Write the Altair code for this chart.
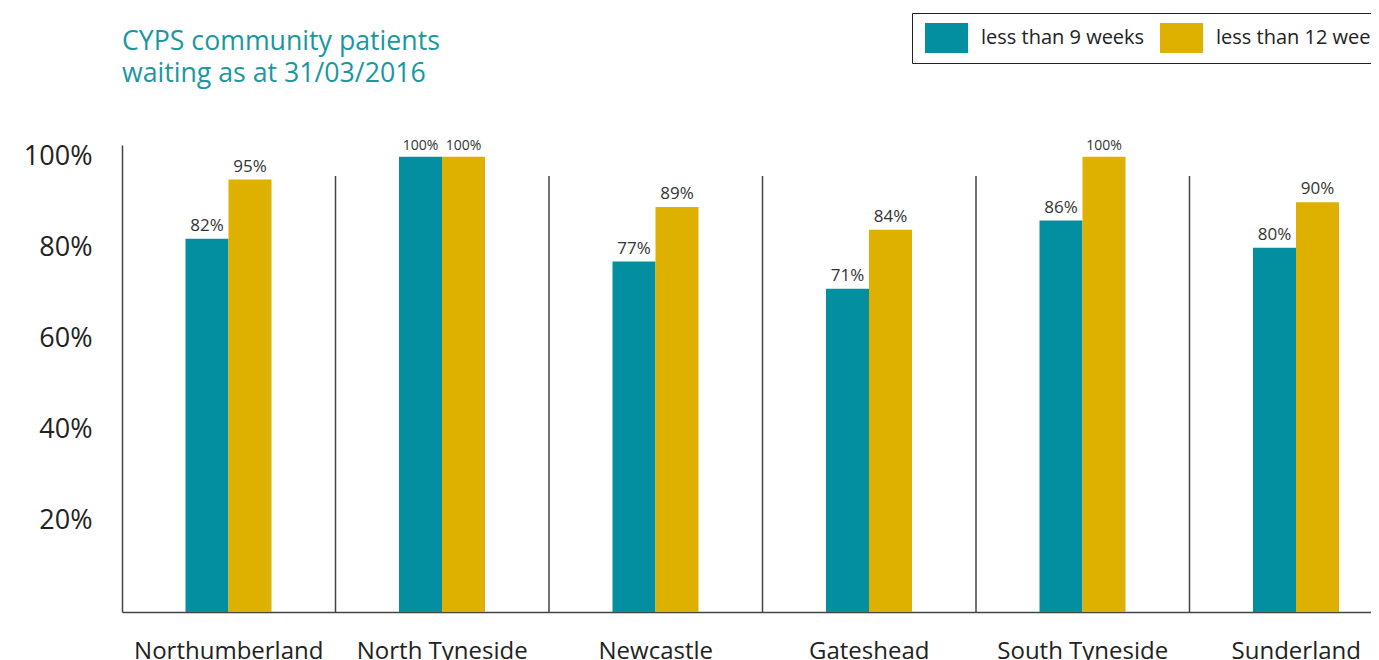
import altair as alt
import pandas as pd

regions = ["Northumberland", "North Tyneside", "Newcastle", "Gateshead", "South Tyneside", "Sunderland"]
series = ["less than 9 weeks", "less than 12 weeks"]
under_9 = [82, 100, 77, 71, 86, 80]
under_12 = [95, 100, 89, 84, 100, 90]
colors = ["#038F9F", "#DEB000"]
title_lines = "CYPS community patients\nwaiting as at 31/03/2016"
y_ticks = [20, 40, 60, 80, 100]

rows = []
for r, a, b in zip(regions, under_9, under_12):
    rows.append({"region": r, "series": series[0], "value": a})
    rows.append({"region": r, "series": series[1], "value": b})
df = pd.DataFrame(rows)
sep_df = pd.DataFrame({"region": regions[1:]})

FONT = "Open Sans"

x_enc = alt.X("region:N", sort=regions,
              scale=alt.Scale(range=[0, 1281], paddingInner=0, paddingOuter=0),
              axis=alt.Axis(title=None, labelAngle=0, labelAlign="center", labelBaseline="top",
                            labelFontSize=24, labelFont=FONT,
                            labelColor="#222", labelPadding=27, ticks=False,
                            domainColor="#444", domainWidth=1.5, labelLimit=400))
y_enc = alt.Y("value:Q", scale=alt.Scale(domain=[0, 102.6], nice=False, zero=True),
              axis=alt.Axis(title=None, values=y_ticks, labelExpr="datum.value + '%'",
                            labelFontSize=27, labelFont=FONT, labelColor="#222",
                            labelPadding=30, ticks=False, grid=False,
                            domainColor="#444", domainWidth=1.5))
xo = alt.XOffset("series:N", sort=series,
                 scale=alt.Scale(range=[63.5, 149.5], paddingInner=0, paddingOuter=0))

bars = alt.Chart(df).mark_bar().encode(
    x=x_enc, xOffset=xo, y=y_enc,
    color=alt.Color("series:N", sort=series,
                    scale=alt.Scale(domain=series, range=colors),
                    legend=alt.Legend(title=None, orient="none", legendX=790, legendY=-132,
                                      direction="horizontal", strokeColor="#222",
                                      padding=10, fillColor="white",
                                      symbolType="M-0.8,-1H2.07V1H-0.8Z", symbolSize=900,
                                      symbolStrokeWidth=0, labelFontSize=20, labelFont=FONT,
                                      labelColor="#222", labelOffset=29, columnPadding=12,
                                      labelLimit=400)),
)

labels = alt.Chart(df).transform_calculate(lbl="datum.value + '%'").mark_text(
    baseline="bottom", dy=-4, font=FONT, color="#333").encode(
    x=alt.X("region:N", sort=regions), xOffset=alt.XOffset("series:N", sort=series),
    y=alt.Y("value:Q"),
    text="lbl:N",
    size=alt.condition("datum.value >= 100", alt.value(14), alt.value(17)),
)

seps = alt.Chart(sep_df).mark_rule(color="#444", strokeWidth=1.5).encode(
    x=alt.X("region:N", sort=regions, bandPosition=0),
    y=alt.value(31), y2=alt.value(467),
)

title = alt.Chart(pd.DataFrame({"t": [title_lines]})).mark_text(
    align="left", baseline="top", fontSize=26.7, font=FONT, color="#1B97A1",
    lineBreak="\n", lineHeight=32).encode(
    x=alt.value(0), y=alt.value(-116), text="t:N")

chart = alt.layer(seps, bars, labels, title).properties(
    width=1249, height=467,
    autosize=alt.AutoSizeParams(type="none"),
    padding={"left": 114, "top": 137, "right": 0, "bottom": 48},
).configure_view(stroke=None)

chart.save("out.html", embed_options={"renderer": "svg", "actions": False})
